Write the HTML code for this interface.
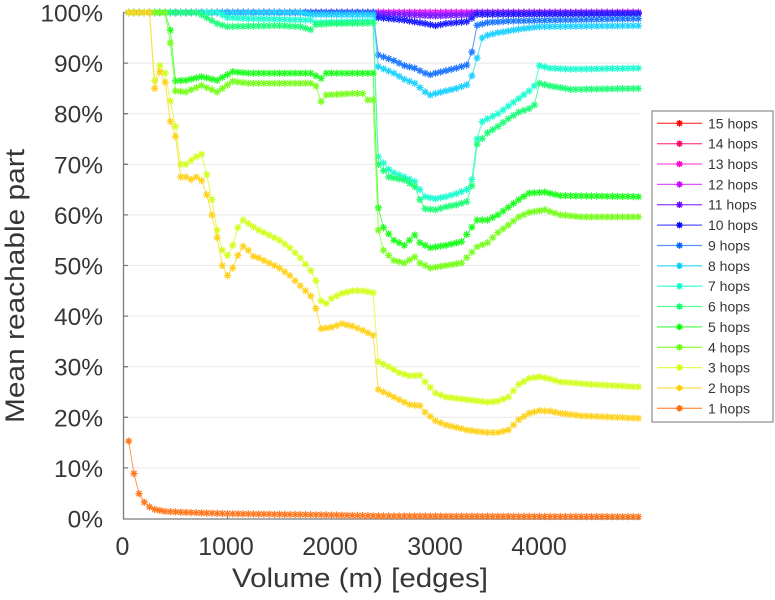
<!DOCTYPE html>
<html><head><meta charset="utf-8">
<style>
html,body{margin:0;padding:0;background:#fff;}
svg{display:block;}
text{font-family:"Liberation Sans",Arial,sans-serif;fill:#363636;}
</style></head><body>
<svg id="c" width="775" height="600" viewBox="0 0 775 600" xmlns="http://www.w3.org/2000/svg">
<rect width="775" height="600" fill="#fff"/>
<g stroke="#e9e9e9" stroke-width="1">
<line x1="124" y1="467.9" x2="640" y2="467.9"/>
<line x1="124" y1="417.3" x2="640" y2="417.3"/>
<line x1="124" y1="366.7" x2="640" y2="366.7"/>
<line x1="124" y1="316.1" x2="640" y2="316.1"/>
<line x1="124" y1="265.5" x2="640" y2="265.5"/>
<line x1="124" y1="214.9" x2="640" y2="214.9"/>
<line x1="124" y1="164.3" x2="640" y2="164.3"/>
<line x1="124" y1="113.7" x2="640" y2="113.7"/>
<line x1="124" y1="63.1" x2="640" y2="63.1"/>
<line x1="124" y1="12.5" x2="640" y2="12.5"/>
</g>
<g stroke="#7a7a7a" stroke-width="1.3" fill="none">
<line x1="123.5" y1="12" x2="123.5" y2="519.5"/>
<line x1="123" y1="519" x2="640" y2="519"/>
<path d="M123.5 467.9h4.5M123.5 417.3h4.5M123.5 366.7h4.5M123.5 316.1h4.5M123.5 265.5h4.5M123.5 214.9h4.5M123.5 164.3h4.5M123.5 113.7h4.5M123.5 63.1h4.5M123.5 12.5h4.5M227.5 519v-4.5M331.5 519v-4.5M435.5 519v-4.5M539.5 519v-4.5"/>
</g>
<g id="data"></g>
<g font-size="24.5" text-anchor="end">
<text x="103" y="527.5">0%</text>
<text x="103" y="476.9">10%</text>
<text x="103" y="426.3">20%</text>
<text x="103" y="375.7">30%</text>
<text x="103" y="325.1">40%</text>
<text x="103" y="274.5">50%</text>
<text x="103" y="223.9">60%</text>
<text x="103" y="173.3">70%</text>
<text x="103" y="122.7">80%</text>
<text x="103" y="72.1">90%</text>
<text x="103" y="21.5">100%</text>
</g>
<g font-size="25" text-anchor="middle">
<text x="122.5" y="555">0</text>
<text x="226" y="555">1000</text>
<text x="330" y="555">2000</text>
<text x="435" y="555">3000</text>
<text x="539" y="555">4000</text>
</g>
<text x="232" y="587" font-size="27" textLength="256" lengthAdjust="spacingAndGlyphs">Volume (m) [edges]</text>
<text transform="translate(24,423) rotate(-90)" x="0" y="0" font-size="27" textLength="274" lengthAdjust="spacingAndGlyphs">Mean reachable part</text>
<rect x="652" y="111" width="121" height="311" fill="#fff" stroke="#8a8a8a" stroke-width="1.2"/>
<g id="leg"></g>
<g font-size="14">
<text x="708" y="128.3">15 hops</text>
<text x="708" y="148.7">14 hops</text>
<text x="708" y="169.0">13 hops</text>
<text x="708" y="189.4">12 hops</text>
<text x="708" y="209.7">11 hops</text>
<text x="708" y="230.1">10 hops</text>
<text x="708" y="250.5">9 hops</text>
<text x="708" y="270.8">8 hops</text>
<text x="708" y="291.2">7 hops</text>
<text x="708" y="311.5">6 hops</text>
<text x="708" y="331.9">5 hops</text>
<text x="708" y="352.3">4 hops</text>
<text x="708" y="372.6">3 hops</text>
<text x="708" y="393.0">2 hops</text>
<text x="708" y="413.3">1 hops</text>
</g>
</svg>
<script>
(function(){
var S={
1:[[50,15.3],[100,8.9],[150,4.9],[200,3.2],[250,2.3],[300,1.8],[400,1.4],[600,1.2],[1000,0.95],[2000,0.7],[2500,0.5],[4950,0.35]],
2:[[50,100],[250,100],[300,85],[350,88.3],[400,86.2],[450,78.5],[500,75.5],[550,67.5],[600,67.5],[650,67],[700,67.5],[750,66.8],[800,64],[850,60],[900,55.5],[950,50],[1000,48],[1050,49.5],[1100,52],[1150,53.8],[1200,53],[1250,51.8],[1300,51.5],[1400,50.5],[1500,49.5],[1600,48],[1700,46],[1800,44],[1850,41.5],[1900,37.5],[2000,37.8],[2100,38.5],[2200,38],[2300,37.2],[2400,36.2],[2450,25.5],[2550,24.5],[2650,23.5],[2750,22.5],[2850,22.3],[2900,21],[3000,19.3],[3100,18.5],[3200,18],[3300,17.5],[3400,17.2],[3500,17],[3600,17],[3700,17.5],[3800,19.5],[3900,20.8],[4000,21.3],[4100,21.2],[4200,20.8],[4400,20.3],[4950,19.8]],
3:[[50,100],[250,100],[300,86.5],[350,89.5],[400,88],[450,82.5],[500,77.5],[550,70],[600,70],[650,70.8],[700,71.5],[750,72],[800,68],[850,63],[900,57],[950,53],[1000,52],[1050,54],[1100,57.5],[1150,59],[1200,58.3],[1300,57],[1400,56],[1500,55],[1600,53.5],[1700,51.5],[1800,49],[1850,47],[1900,43],[1950,42.5],[2000,43.5],[2100,44.5],[2200,45],[2300,45],[2400,44.6],[2450,31],[2550,30],[2650,28.8],[2750,28.2],[2850,28.3],[2900,27],[3000,24.8],[3100,24],[3300,23.5],[3500,23],[3600,23.2],[3700,24],[3800,26.5],[3900,27.7],[4000,28],[4100,27.6],[4200,27],[4500,26.5],[4950,26]],
4:[[50,100],[400,100],[450,94],[500,84.5],[600,84.3],[750,85.6],[900,84.3],[1050,86.4],[1200,86],[1500,86],[1800,86],[1850,85.5],[1900,82.4],[1950,83.7],[2200,84],[2300,84],[2350,82.7],[2400,82.7],[2450,57],[2500,53],[2600,51],[2700,50.5],[2800,51.7],[2850,50.5],[2950,49.5],[3100,50],[3250,50.5],[3400,53.7],[3500,54.5],[3600,56.5],[3700,58],[3800,59.6],[3900,60.5],[4050,61],[4200,60],[4400,59.6],[4950,59.6]],
5:[[50,100],[400,100],[450,96.5],[500,86.5],[600,86.6],[750,87.3],[900,86.6],[1050,88.3],[1200,88],[1500,88],[1800,88],[1850,87.5],[1900,87],[1950,88],[2400,88],[2450,61.4],[2500,57.5],[2600,55],[2700,54],[2800,56],[2850,54.5],[2950,53.5],[3100,54],[3250,54.7],[3400,59],[3500,59],[3600,60],[3700,61.5],[3800,63],[3900,64.3],[4050,64.5],[4200,63.8],[4950,63.6]],
6:[[50,100],[700,100],[800,99],[900,97.8],[1000,97.2],[1200,97.3],[1500,97.4],[1700,97.2],[1800,96.6],[1850,97.6],[2000,97.8],[2400,97.9],[2450,70],[2550,67.5],[2700,66.9],[2800,65.6],[2850,63],[2900,61.2],[3000,61],[3100,61.6],[3200,62],[3300,62.6],[3370,67],[3400,74],[3500,76.2],[3600,77.5],[3700,79],[3800,80.3],[3900,81],[3950,81.7],[4000,86],[4100,85.5],[4300,84.8],[4950,85]],
7:[[50,100],[900,100],[1000,99],[1200,98.8],[1800,98.5],[1850,98],[2400,98.3],[2450,71.5],[2550,69],[2600,68.3],[2700,67.5],[2800,66.6],[2850,65],[2900,63.6],[3000,63.2],[3100,63.6],[3200,64.2],[3300,65],[3350,67],[3380,69],[3410,78],[3500,79],[3600,80],[3700,81.5],[3800,83],[3900,84.5],[3950,85.5],[4000,89.5],[4100,89],[4300,88.8],[4950,89]],
8:[[50,100],[1700,100],[1800,99.6],[2400,99.5],[2450,89.3],[2600,88],[2700,86.8],[2800,86],[2900,84.3],[2950,83.7],[3000,84],[3100,84.5],[3200,85],[3300,85.7],[3350,87.5],[3400,91],[3450,95],[3500,95.5],[3600,96],[3800,96.7],[4000,97.2],[4950,97.4]],
9:[[50,100],[2400,100],[2450,91.6],[2600,90.5],[2700,89.5],[2800,89],[2900,88],[2950,87.7],[3000,88],[3100,88.5],[3200,89],[3300,89.6],[3350,92.2],[3400,97.5],[3500,98],[3700,98.3],[4950,98.8]],
10:[[50,100],[2400,100],[2450,99],[2700,98.5],[2900,97.8],[3000,97.4],[3100,97.8],[3300,98.2],[3400,99.6],[4950,99.7]],
11:[[50,100],[2400,100],[2450,99.7],[3000,99.3],[3300,99.5],[3400,100],[4950,100]],
12:[[50,100],[4950,100]],13:[[50,100],[4950,100]],14:[[50,100],[4950,100]],15:[[50,100],[4950,100]]
};
var NS="http://www.w3.org/2000/svg";
var g=document.getElementById('data'), lg=document.getElementById('leg');
function X(v){return 123.5+v*0.104;}
function Y(p){return 518.5-5.06*p;}
function f(k,v){for(var i=0;i<k.length-1;i++){if(v<=k[i+1][0]){var t=(v-k[i][0])/(k[i+1][0]-k[i][0]);return k[i][1]+t*(k[i+1][1]-k[i][1]);}}return k[k.length-1][1];}
function r1(n){return Math.round(n*10)/10;}
function star(x,y,r){var d=r*0.72;return 'M'+r1(x-r)+' '+r1(y)+'h'+r1(2*r)+'M'+r1(x)+' '+r1(y-r)+'v'+r1(2*r)+'M'+r1(x-d)+' '+r1(y-d)+'l'+r1(2*d)+' '+r1(2*d)+'M'+r1(x-d)+' '+r1(y+d)+'l'+r1(2*d)+' '+r1(-2*d);}
function P(par,d,stroke,w){var p=document.createElementNS(NS,'path');p.setAttribute('d',d);p.setAttribute('fill','none');p.setAttribute('stroke',stroke);p.setAttribute('stroke-width',w);par.appendChild(p);}
for(var k=15;k>=1;k--){
  var h=(24*k)%360, keys=S[k], lp='', sp='';
  for(var v=50;v<=4950;v+=50){var x=X(v),y=Y(f(keys,v));lp+=(v===50?'M':'L')+r1(x)+' '+r1(y);sp+=star(x,y,3.6);}
  P(g,lp,'hsl('+h+',100%,66%)',1);
  P(g,sp,'hsl('+h+',100%,56%)',1.25);
  var ly=123.3+(15-k)*20.36;
  P(lg,'M657 '+r1(ly)+'H702','hsl('+h+',100%,66%)',1.3);
  P(lg,star(679.5,ly,3.3),'hsl('+h+',100%,50%)',1.4);
}
})();
</script>
</body></html>
